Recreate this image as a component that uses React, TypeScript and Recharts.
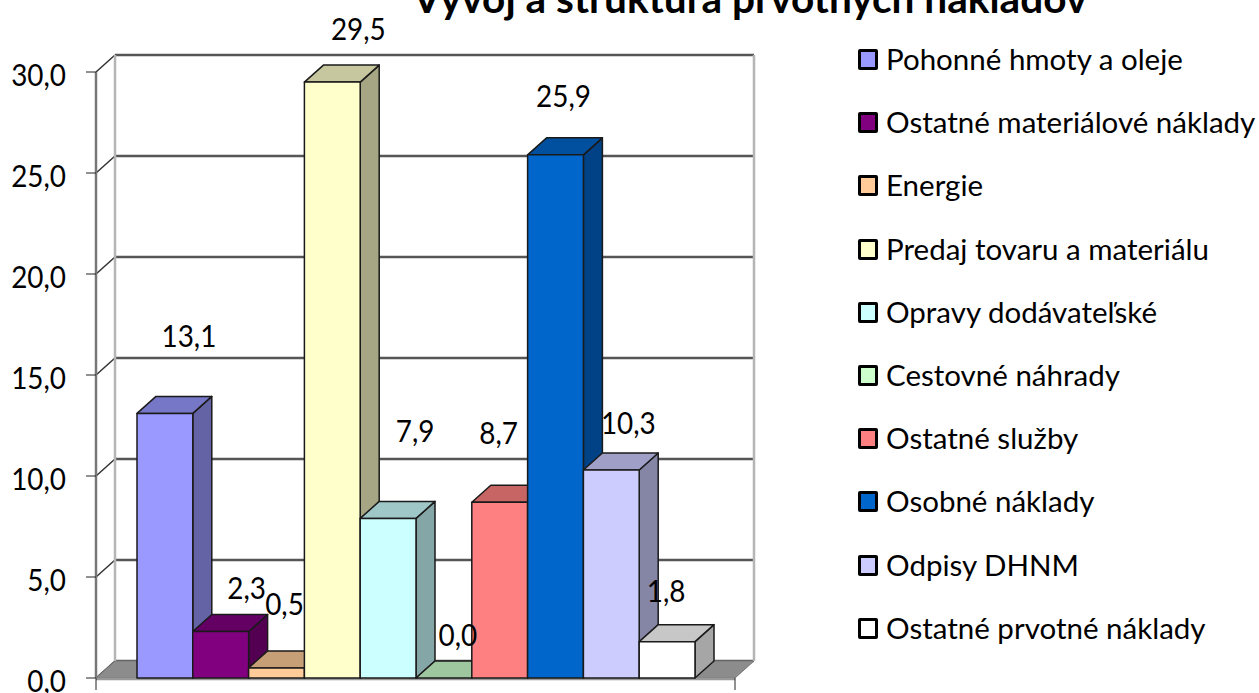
import React from 'react';
import {
  Bar,
  BarChart,
  CartesianGrid,
  LabelList,
  Legend,
  ReferenceArea,
  XAxis,
  YAxis,
} from 'recharts';

const categories = ['Prvotné náklady'];
const seriesNames = [
  'Pohonné hmoty a oleje',
  'Ostatné materiálové náklady',
  'Energie',
  'Predaj tovaru a materiálu',
  'Opravy dodávateľské',
  'Cestovné náhrady',
  'Ostatné služby',
  'Osobné náklady',
  'Odpisy DHNM',
  'Ostatné prvotné náklady',
];
const seriesValues = [13.1, 2.3, 0.5, 29.5, 7.9, 0.0, 8.7, 25.9, 10.3, 1.8];
const seriesColors = [
  '#9999ff',
  '#800080',
  '#ffcc99',
  '#ffffcc',
  '#ccffff',
  '#ccffcc',
  '#ff8080',
  '#0066cc',
  '#ccccff',
  '#ffffff',
];
const yTicks = [0, 5, 10, 15, 20, 25, 30];

// the labels were dragged by hand in the original, so each one has its own nudge
const labelNudges = [
  [24, -78],
  [26, -44],
  [8, -65],
  [26, -54],
  [27, -88],
  [14, -44],
  [-1, -70],
  [8, -60],
  [17, -48],
  [-1, -52],
];

const FONT = 'Lato, sans-serif';
const DX = 19;
const DY = -17;

const row: Record<string, string | number> = { name: categories[0] };
seriesNames.forEach((n, i) => {
  row[n] = seriesValues[i];
});
const data = [row];

const comma = (v: number) => v.toFixed(1).replace('.', ',');

const shade = (hex: string, k: number) => {
  const n = parseInt(hex.slice(1), 16);
  const c = [(n >> 16) & 255, (n >> 8) & 255, n & 255].map((v) => Math.round(v * k));
  return `rgb(${c.join(',')})`;
};

// Lato digits run wider than the original font, so squeeze them a little
const NumberText = ({ x, y, anchor, children }: any) => (
  <text
    transform={`translate(${x} ${y}) scale(0.93 1)`}
    textAnchor={anchor}
    dominantBaseline="central"
    fontFamily={FONT}
    fontSize={30}
    fill="#000"
  >
    {children}
  </text>
);

const Bar3D = (props: any) => {
  const { x, y, width: w, height: h, fill } = props;
  const stroke = { stroke: '#1a1a1a', strokeWidth: 1.5, strokeLinejoin: 'round' as const };
  return (
    <g>
      <polygon
        points={`${x + w},${y} ${x + w + DX},${y + DY} ${x + w + DX},${y + h + DY} ${x + w},${y + h}`}
        fill={shade(fill, 0.65)}
        {...stroke}
      />
      <polygon
        points={`${x},${y} ${x + DX},${y + DY} ${x + w + DX},${y + DY} ${x + w},${y}`}
        fill={shade(fill, 0.78)}
        {...stroke}
      />
      <rect x={x} y={y} width={w} height={h} fill={fill} {...stroke} />
    </g>
  );
};

// back wall, floor and the two outer ticks, sized from the reference area's own box
const Walls = (props: any) => {
  const { x, y, width: w, height: h } = props;
  const bottom = y + h;
  return (
    <g>
      <polygon
        points={`${x},${bottom} ${x + DX},${bottom + DY} ${x + w + DX},${bottom + DY} ${x + w},${bottom}`}
        fill="#8c8c8c"
        stroke="#777"
      />
      <line x1={x + DX} y1={y + DY} x2={x + DX} y2={bottom + DY} stroke="#b5b5b5" strokeWidth={2.5} />
      <line x1={x + w + DX} y1={y + DY} x2={x + w + DX} y2={bottom + DY} stroke="#b5b5b5" strokeWidth={2.5} />
      <line x1={x} y1={bottom + 1} x2={x + w} y2={bottom + 1} stroke="#999" strokeWidth={2.5} />
      <line x1={x} y1={bottom} x2={x} y2={bottom + 12} stroke="#222" />
      <line x1={x + w} y1={bottom} x2={x + w} y2={bottom + 12} stroke="#222" />
    </g>
  );
};

const GridLine = (props: any) => {
  const { x1, x2, y1 } = props;
  return (
    <g>
      <line x1={x1} y1={y1} x2={x1 + DX} y2={y1 + DY} stroke="#333" strokeWidth={1.5} />
      <line x1={x1 + DX} y1={y1 + DY} x2={x2 + DX} y2={y1 + DY} stroke="#555" strokeWidth={2.6} />
    </g>
  );
};

const YTick = ({ x, y, payload }: any) => (
  <NumberText x={x} y={y + 2} anchor="end">
    {comma(payload.value)}
  </NumberText>
);

const makeLabel = (i: number) => (props: any) => {
  const { x, y, width } = props;
  return (
    <NumberText x={x + width / 2 + labelNudges[i][0]} y={y + labelNudges[i][1]} anchor="middle">
      {comma(seriesValues[i])}
    </NumberText>
  );
};

const LegendList = ({ payload }: any) => (
  <div style={{ fontFamily: FONT, fontSize: 29.5, color: '#000' }}>
    {(payload || []).map((entry: any) => (
      <div key={entry.value} style={{ display: 'flex', alignItems: 'center', height: 63.2 }}>
        <span
          style={{
            display: 'inline-block',
            boxSizing: 'border-box',
            position: 'relative',
            top: 1,
            width: 20,
            height: 21,
            marginRight: 8,
            border: '3px solid #000',
            borderRadius: 2,
            background: entry.color,
          }}
        />
        <span style={{ whiteSpace: 'nowrap' }}>{entry.value}</span>
      </div>
    ))}
  </div>
);

export default function App() {
  return (
    <div style={{ position: 'absolute', left: 0, top: 0, width: 1259, height: 693, overflow: 'hidden' }}>
      <BarChart
        width={1259}
        height={693}
        data={data}
        margin={{ top: 72, right: 524, bottom: 15, left: 0 }}
        barGap={0}
      >
        <ReferenceArea y1={0} y2={30} ifOverflow="visible" shape={Walls} />
        <CartesianGrid vertical={false} horizontal={GridLine} />
        <XAxis dataKey="name" hide />
        <YAxis
          width={96}
          domain={[0, 30]}
          ticks={yTicks}
          interval={0}
          tickSize={10}
          tickMargin={20}
          tickLine={{ stroke: '#222' }}
          axisLine={{ stroke: '#777', strokeWidth: 2.5 }}
          tick={YTick}
        />
        <Legend
          layout="vertical"
          align="center"
          verticalAlign="middle"
          itemSorter={null}
          content={<LegendList />}
          wrapperStyle={{ position: 'absolute', left: 858, top: 27, width: 401 }}
        />
        {seriesNames.map((n, i) => (
          <Bar
            key={n}
            dataKey={n}
            name={n}
            fill={seriesColors[i]}
            barSize={55.8}
            shape={Bar3D}
            isAnimationActive={false}
          >
            <LabelList dataKey={n} content={makeLabel(i)} />
          </Bar>
        ))}
        <text
          x={750}
          y={13}
          textAnchor="middle"
          fontFamily={FONT}
          fontWeight={700}
          fontSize={40.6}
          fill="#000"
        >
          Vývoj a štruktúra prvotných nákladov
        </text>
      </BarChart>
    </div>
  );
}
